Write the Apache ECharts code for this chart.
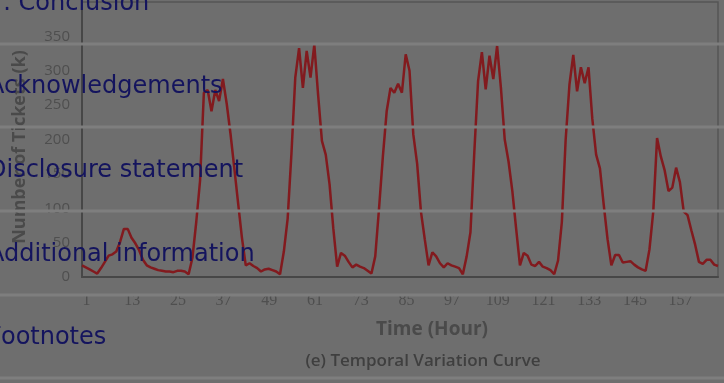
<!DOCTYPE html>
<html>
<head>
<meta charset="utf-8">
<script src="https://cdn.jsdelivr.net/npm/echarts@6/dist/echarts.min.js"></script>
<style>
  html, body { margin: 0; padding: 0; background: #6e6e6e; overflow: hidden; }
  #chart { width: 724px; height: 383px; }
</style>
</head>
<body>
<div id="chart"></div>
<script>
// hourly categories 1..168
const hours = [];
for (let h = 1; h <= 168; h++) hours.push(String(h));

// number of tickets (k), one value per hour
const tickets = [
  17, 14, 11, 8, 5, 13, 22, 31, 33, 37, 51, 70, 70, 57, 49, 39, 25, 17, 14, 12, 10, 9, 8, 8,
  7, 9, 9, 8, 4, 28, 80, 140, 268, 272, 241, 272, 256, 288, 252, 208, 158, 107, 57, 17, 20, 16, 13, 8,
  11, 12, 10, 8, 4, 37, 85, 180, 290, 333, 275, 329, 290, 338, 265, 198, 178, 135, 70, 15, 35, 31, 22, 14,
  18, 15, 13, 9, 5, 30, 100, 175, 241, 275, 268, 281, 268, 324, 300, 207, 165, 95, 55, 17, 36, 30, 20, 14,
  20, 17, 15, 13, 4, 30, 65, 180, 285, 327, 273, 322, 288, 336, 275, 200, 168, 125, 70, 17, 35, 31, 18, 16,
  22, 15, 13, 10, 4, 24, 80, 200, 280, 323, 270, 305, 282, 305, 230, 178, 158, 105, 55, 17, 32, 32, 21, 22,
  23, 18, 14, 11, 9, 40, 95, 202, 175, 155, 125, 130, 159, 138, 95, 90, 68, 47, 22, 19, 25, 25, 18, 16
];

// page menu entries that lie over the figure
const menuItems = ['7. Conclusion', 'Acknowledgements', 'Disclosure statement', 'Additional information', 'Footnotes'];
const menuRules = [44, 127, 211, 295, 378];

const chart = echarts.init(document.getElementById('chart'), null, { renderer: 'canvas' });

const menuGraphics = [];
menuRules.forEach(y => {
  menuGraphics.push({
    type: 'line', z: 100,
    shape: { x1: 0, y1: y, x2: 724, y2: y },
    style: { stroke: '#7e7e7e', lineWidth: 3 }
  });
});
menuItems.forEach((t, i) => {
  menuGraphics.push({
    type: 'text', z: 101,
    x: -12, y: 3.5 + i * 83.6,
    style: {
      text: t, fill: '#14145e',
      font: '24px "DejaVu Sans"',
      textAlign: 'left', textVerticalAlign: 'middle'
    }
  });
});

const option = {
  backgroundColor: '#6e6e6e',
  animation: false,
  grid: {
    left: 82, right: 6, top: 2, bottom: 106,
    show: true, borderColor: '#555555', borderWidth: 1.5
  },
  xAxis: {
    type: 'category',
    data: hours,
    boundaryGap: false,
    axisLine: { lineStyle: { color: '#474747', width: 2 } },
    axisTick: { show: false },
    axisLabel: {
      interval: 11,
      color: '#4f4f4f',
      fontFamily: 'Liberation Serif',
      fontSize: 16,
      margin: 16,
      padding: [0, 0, 0, 9]
    },
    splitLine: { show: false }
  },
  yAxis: {
    type: 'value',
    min: 0, max: 400, interval: 50,
    axisLine: { show: true, lineStyle: { color: '#474747', width: 2 } },
    axisTick: { show: false },
    axisLabel: {
      color: '#4f4f4f',
      fontFamily: 'Open Sans',
      fontSize: 15,
      margin: 12,
      showMaxLabel: false
    },
    splitLine: { show: false }
  },
  series: [
    {
      name: 'Tickets',
      type: 'line',
      data: tickets,
      showSymbol: false,
      lineStyle: { color: '#821a1e', width: 2.5 },
      z: 3
    }
  ],
  graphic: [
    {
      type: 'text', x: 20, y: 147, rotation: Math.PI / 2,
      style: {
        text: 'Number of Tickets (k)', fill: '#4a4a4a',
        font: 'bold 18px "Open Sans"', textAlign: 'center', textVerticalAlign: 'middle'
      }
    },
    {
      type: 'text', x: 432, y: 330,
      style: {
        text: 'Time (Hour)', fill: '#4a4a4a',
        font: 'bold 19px "Open Sans"', textAlign: 'center', textVerticalAlign: 'middle'
      }
    },
    {
      type: 'text', x: 423, y: 361,
      style: {
        text: '(e) Temporal Variation Curve', fill: '#3f3f3f',
        font: '600 17px "Open Sans"', textAlign: 'center', textVerticalAlign: 'middle'
      }
    }
  ].concat(menuGraphics)
};

chart.setOption(option);
window.addEventListener('resize', () => chart.resize());
</script>
</body>
</html>
